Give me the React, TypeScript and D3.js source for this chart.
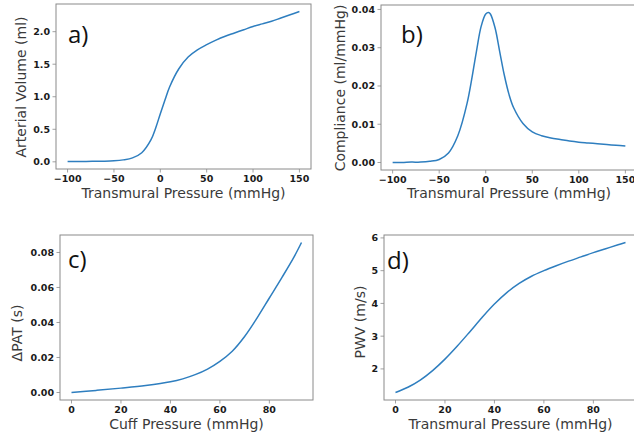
import React from "react";
import * as d3 from "d3";

// a) arterial volume vs transmural pressure
const volPressure = [-100, -90, -80, -70, -60, -50, -40, -30, -20, -10, -5, 0, 5, 10, 20, 30, 40, 50, 60, 70, 80, 90, 100, 110, 120, 130, 140, 150];
const volValues = [0.005, 0.005, 0.006, 0.008, 0.01, 0.016, 0.03, 0.06, 0.14, 0.34, 0.52, 0.74, 0.95, 1.15, 1.43, 1.61, 1.72, 1.8, 1.87, 1.93, 1.98, 2.03, 2.08, 2.12, 2.16, 2.21, 2.26, 2.31];

// b) compliance vs transmural pressure
const compPressure = [-100, -90, -80, -70, -60, -50, -40, -30, -20, -10, -5, 0, 3, 5, 10, 15, 20, 25, 30, 40, 50, 60, 70, 80, 90, 100, 110, 120, 130, 140, 150];
const compValues = [0.0, 0.0, 0.0001, 0.0001, 0.0003, 0.0008, 0.0025, 0.007, 0.0155, 0.029, 0.0355, 0.0388, 0.0392, 0.0388, 0.0352, 0.029, 0.0228, 0.0178, 0.0143, 0.0102, 0.008, 0.007, 0.0064, 0.006, 0.0056, 0.0053, 0.0051, 0.0049, 0.0047, 0.0045, 0.0043];

// c) change in pulse arrival time vs cuff pressure
const cuffPressure = [0, 10, 20, 30, 40, 45, 50, 55, 60, 65, 70, 75, 80, 85, 90, 93];
const patValues = [0.0, 0.0012, 0.0025, 0.004, 0.0061, 0.0078, 0.0102, 0.0134, 0.0178, 0.0236, 0.032, 0.0425, 0.054, 0.0655, 0.0775, 0.0857];

// d) pulse wave velocity vs transmural pressure
const pwvPressure = [0, 5, 10, 15, 20, 25, 30, 35, 40, 45, 50, 55, 60, 65, 70, 75, 80, 85, 90, 93];
const pwvValues = [1.28, 1.44, 1.66, 1.95, 2.3, 2.7, 3.13, 3.57, 3.98, 4.33, 4.61, 4.83, 5.0, 5.15, 5.29, 5.42, 5.55, 5.67, 5.79, 5.86];

const xTicksWide = [-100, -50, 0, 50, 100, 150];
const xTicksCuff = [0, 20, 40, 60, 80];
const yTicksVol = [0, 0.5, 1, 1.5, 2];
const yTicksComp = [0, 0.01, 0.02, 0.03, 0.04];
const yTicksPat = [0, 0.02, 0.04, 0.06, 0.08];
const yTicksPwv = [2, 3, 4, 5, 6];

const LINE = "#2e7ebf";
const SPINE = "#8a8a8a";
const FONT = "'DejaVu Sans', sans-serif";

type PanelProps = {
  box: { left: number; right: number; top: number; bottom: number };
  xs: number[];
  ys: number[];
  xTicks: number[];
  yTicks: number[];
  xFmt: (v: number) => string;
  yFmt: (v: number) => string;
  xLabel: string;
  yLabel: string;
  yLabelX: number;
  yLabelY: number;
  xLabelY: number;
  tag: string;
  tagX: number;
  tagY: number;
};

// matplotlib-style 5% padding around the data extent
function padded(vals: number[]): [number, number] {
  const [lo, hi] = d3.extent(vals) as [number, number];
  const m = (hi - lo) * 0.05;
  return [lo - m, hi + m];
}

function Panel(p: PanelProps) {
  const { box } = p;
  const x = d3.scaleLinear().domain(padded(p.xs)).range([box.left, box.right]);
  const y = d3.scaleLinear().domain(padded(p.ys)).range([box.bottom, box.top]);
  const pts: [number, number][] = p.xs.map((v, i) => [v, p.ys[i]]);
  const path = d3
    .line<[number, number]>()
    .x((d) => x(d[0]))
    .y((d) => y(d[1]))
    .curve(d3.curveCatmullRom.alpha(0.5))(pts);
  const cx = (box.left + box.right) / 2;
  return (
    <g>
      <path d={path ?? ""} fill="none" stroke={LINE} strokeWidth={1.5} />
      <rect
        x={box.left}
        y={box.top}
        width={box.right - box.left}
        height={box.bottom - box.top}
        fill="none"
        stroke={SPINE}
        strokeWidth={1}
      />
      {p.xTicks.map((t) => (
        <g key={"x" + t} transform={`translate(${x(t)},${box.bottom})`}>
          <line y1={0} y2={3.5} stroke={SPINE} strokeWidth={0.8} />
          <text
            y={13}
            textAnchor="middle"
            fontFamily={FONT}
            fontWeight="bold"
            fontSize={9.5}
            fill="#1a1a1a"
          >
            {p.xFmt(t)}
          </text>
        </g>
      ))}
      {p.yTicks.map((t) => (
        <g key={"y" + t} transform={`translate(${box.left},${y(t)})`}>
          <line x1={0} x2={-3.5} stroke={SPINE} strokeWidth={0.8} />
          <text
            x={-6}
            dy="0.36em"
            textAnchor="end"
            fontFamily={FONT}
            fontWeight="bold"
            fontSize={9.5}
            fill="#1a1a1a"
          >
            {p.yFmt(t)}
          </text>
        </g>
      ))}
      <text
        x={cx}
        y={p.xLabelY}
        textAnchor="middle"
        fontFamily={FONT}
        fontSize={14}
        fill="#3a3a3a"
      >
        {p.xLabel}
      </text>
      <text
        transform={`translate(${p.yLabelX},${p.yLabelY}) rotate(-90)`}
        textAnchor="middle"
        fontFamily={FONT}
        fontSize={14}
        fill="#3a3a3a"
      >
        {p.yLabel}
      </text>
      <text x={p.tagX} y={p.tagY} fontFamily="'Open Sans', sans-serif" fontSize={24} fill="#111">
        {p.tag}
      </text>
    </g>
  );
}

const minus = (s: string) => s.replace("-", "\u2212");

export default function App() {
  const f0 = (v: number) => minus(d3.format("d")(v));
  const f1 = d3.format(".1f");
  const f2 = d3.format(".2f");
  return (
    <svg
      width={634}
      height={436}
      style={{ position: "absolute", left: 0, top: 0, background: "#fff" }}
    >
      <rect width={634} height={436} fill="#fff" />
      <Panel
        box={{ left: 56, right: 311, top: 4, bottom: 169 }}
        xs={volPressure}
        ys={volValues}
        xTicks={xTicksWide}
        yTicks={yTicksVol}
        xFmt={f0}
        yFmt={f1}
        xLabel="Transmural Pressure (mmHg)"
        yLabel="Arterial Volume (ml)"
        yLabelX={26}
        yLabelY={87}
        xLabelY={198}
        tag="a)"
        tagX={68}
        tagY={43}
      />
      <Panel
        box={{ left: 381, right: 637, top: 5, bottom: 170 }}
        xs={compPressure}
        ys={compValues}
        xTicks={xTicksWide}
        yTicks={yTicksComp}
        xFmt={f0}
        yFmt={f2}
        xLabel="Transmural Pressure (mmHg)"
        yLabel="Compliance (ml/mmHg)"
        yLabelX={345}
        yLabelY={88}
        xLabelY={198}
        tag="b)"
        tagX={401}
        tagY={43}
      />
      <Panel
        box={{ left: 60, right: 313, top: 235, bottom: 400 }}
        xs={cuffPressure}
        ys={patValues}
        xTicks={xTicksCuff}
        yTicks={yTicksPat}
        xFmt={f0}
        yFmt={f2}
        xLabel="Cuff Pressure (mmHg)"
        yLabel="ΔPAT (s)"
        yLabelX={22}
        yLabelY={333}
        xLabelY={429}
        tag="c)"
        tagX={68}
        tagY={268}
      />
      <Panel
        box={{ left: 384, right: 637, top: 235, bottom: 400 }}
        xs={pwvPressure}
        ys={pwvValues}
        xTicks={xTicksCuff}
        yTicks={yTicksPwv}
        xFmt={f0}
        yFmt={f0}
        xLabel="Transmural Pressure (mmHg)"
        yLabel="PWV (m/s)"
        yLabelX={365}
        yLabelY={322}
        xLabelY={429}
        tag="d)"
        tagX={387}
        tagY={269}
      />
    </svg>
  );
}
